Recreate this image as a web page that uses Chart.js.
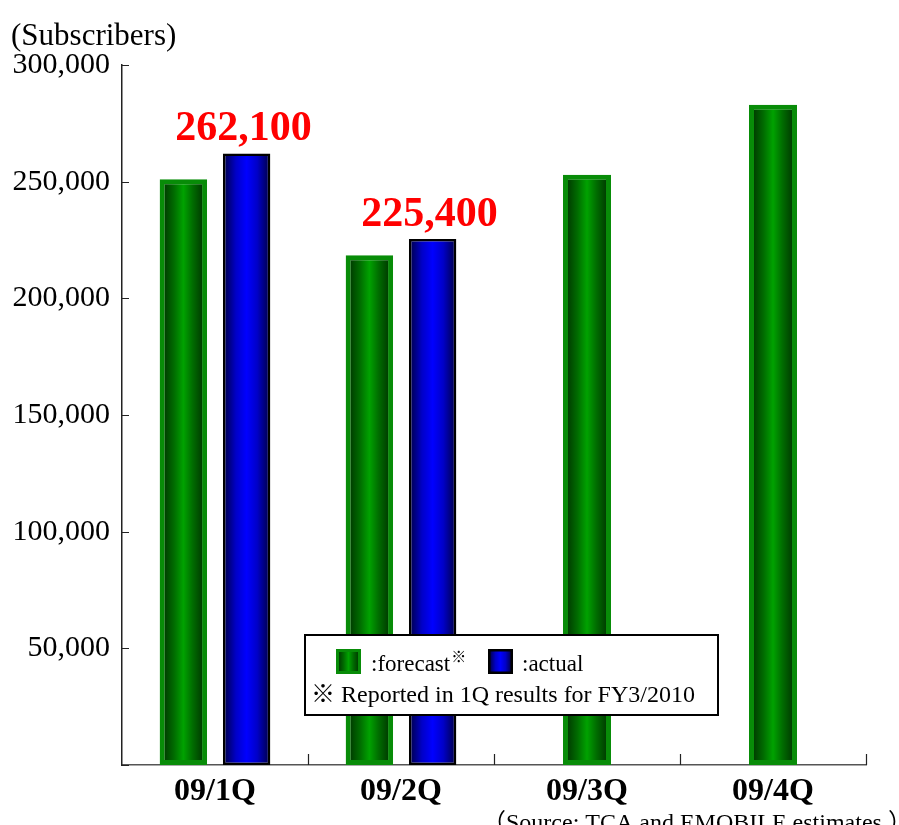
<!DOCTYPE html>
<html>
<head>
<meta charset="utf-8">
<title>Subscribers</title>
<script src="https://cdn.jsdelivr.net/npm/chart.js"></script>
<style>
  html, body { margin: 0; padding: 0; background: #fff; }
  #wrap { width: 899px; height: 825px; }
</style>
</head>
<body>
<div id="wrap"><canvas id="subsChart" width="899" height="825"></canvas></div>
<script>
// quarters and subscriber counts
const quarters = ['09/1Q', '09/2Q', '09/3Q', '09/4Q'];
const forecast = [251000, 218500, 253000, 283000];
const actual = [262100, 225400, null, null];
const yTicks = [0, 50000, 100000, 150000, 200000, 250000, 300000];

const SERIF = "'Liberation Serif', 'Noto Sans CJK JP', serif";

// gradient stops for the bar faces (edge -> centre -> edge)
const greenShade = ['#003f00', '#006c00', '#00a200', '#006c00', '#003f00'];
const blueShade = ['#00005a', '#0000c8', '#0000ff', '#0000c8', '#00005a'];

function fmt(v) {
    return v.toLocaleString('en-US');
}

function shadeFill(ctx, x0, x1, stops) {
    const g = ctx.createLinearGradient(x0, 0, x1, 0);
    stops.forEach((c, i) => g.addColorStop(i / (stops.length - 1), c));
    return g;
}

// horizontal gradient on every bar
const barShade = {
    id: 'barShade',
    beforeDatasetsDraw(chart) {
        const ctx = chart.ctx;
        chart.data.datasets.forEach((ds, di) => {
            const meta = chart.getDatasetMeta(di);
            meta.data.forEach(bar => {
                if (bar.skip) return;
                const { x, width } = bar.getProps(['x', 'width'], true);
                const b = ds.borderWidth;
                const fill = shadeFill(ctx, x - width / 2 + b, x + width / 2 - b, ds.shade);
                bar.options = Object.assign({}, bar.options, { backgroundColor: fill });
            });
        });
    }
};

// red value labels above the actual bars
const valueLabels = {
    id: 'valueLabels',
    afterDatasetsDraw(chart) {
        const ctx = chart.ctx;
        const meta = chart.getDatasetMeta(1);
        ctx.save();
        ctx.font = 'bold 42px ' + SERIF;
        ctx.fillStyle = '#ff0000';
        ctx.textAlign = 'center';
        ctx.textBaseline = 'alphabetic';
        meta.data.forEach((bar, i) => {
            const v = chart.data.datasets[1].data[i];
            if (v == null) return;
            ctx.fillText(fmt(v), bar.x - 3, bar.y - 13);
        });
        ctx.restore();
    }
};

// inward tick marks on both axes
const innerTicks = {
    id: 'innerTicks',
    afterDatasetsDraw(chart) {
        const ctx = chart.ctx;
        const { y } = chart.scales;
        const area = chart.chartArea;
        ctx.save();
        ctx.strokeStyle = '#222';
        ctx.lineWidth = 1.2;
        ctx.beginPath();
        yTicks.forEach(v => {
            const py = Math.round(y.getPixelForValue(v)) + 0.5;
            ctx.moveTo(area.left, py);
            ctx.lineTo(area.left + 7, py);
        });
        const step = (area.right - area.left) / quarters.length;
        for (let i = 1; i <= quarters.length; i++) {
            const px = Math.round(area.left + step * i) + 0.5;
            ctx.moveTo(px, area.bottom);
            ctx.lineTo(px, area.bottom - 11);
        }
        ctx.stroke();
        ctx.restore();
    }
};

function swatch(ctx, x, y, ds) {
    const b = ds.legendBorder;
    ctx.fillStyle = shadeFill(ctx, x + b, x + 25 - b, ds.shade);
    ctx.fillRect(x, y, 25, 25);
    ctx.strokeStyle = ds.borderColor;
    ctx.lineWidth = b;
    ctx.strokeRect(x + b / 2, y + b / 2, 25 - b, 25 - b);
}

// boxed legend, axis title and source note
const annotations = {
    id: 'annotations',
    afterDraw(chart) {
        const ctx = chart.ctx;
        const [fc, ac] = chart.data.datasets;
        ctx.save();

        // legend box
        ctx.fillStyle = '#fff';
        ctx.fillRect(305, 635, 413, 80);
        ctx.strokeStyle = '#000';
        ctx.lineWidth = 2;
        ctx.strokeRect(305, 635, 413, 80);

        swatch(ctx, 336, 649, fc);
        swatch(ctx, 488, 649, ac);

        ctx.fillStyle = '#000';
        ctx.textBaseline = 'alphabetic';
        ctx.textAlign = 'left';
        ctx.font = '23px ' + SERIF;
        ctx.fillText(':' + fc.label, 371, 671);
        const w = ctx.measureText(':' + fc.label).width;
        ctx.fillText(':' + ac.label, 522, 671);
        ctx.font = '15px ' + SERIF;
        ctx.fillText('※', 371 + w + 1, 662);

        ctx.font = '24px ' + SERIF;
        ctx.fillText('※ Reported in 1Q results for FY3/2010', 311, 702);

        // axis unit
        ctx.font = '31px ' + SERIF;
        ctx.fillText('(Subscribers)', 11, 45);

        // source
        ctx.font = '24px ' + SERIF;
        ctx.fillText('（Source: TCA and EMOBILE estimates.）', 482, 830);

        ctx.restore();
    }
};

const ctx = document.getElementById('subsChart').getContext('2d');
const subsChart = new Chart(ctx, {
    type: 'bar',
    data: {
        labels: quarters,
        datasets: [{
            label: 'forecast',
            data: forecast,
            shade: greenShade,
            backgroundColor: '#009a00',
            borderColor: '#088c08',
            borderWidth: 5,
            legendBorder: 3,
            borderSkipped: false
        }, {
            label: 'actual',
            data: actual,
            shade: blueShade,
            backgroundColor: '#0000ff',
            borderColor: '#000000',
            borderWidth: 2.5,
            legendBorder: 2.5,
            borderSkipped: false
        }]
    },
    options: {
        responsive: false,
        animation: false,
        events: [],
        skipNull: true,
        categoryPercentage: 0.68,
        barPercentage: 0.75,
        maxBarThickness: 48,
        layout: { padding: { top: 65, right: 33, left: 0, bottom: 0 } },
        plugins: {
            legend: { display: false },
            tooltip: { enabled: false }
        },
        scales: {
            x: {
                grid: { display: false, drawTicks: false },
                border: { display: true, color: '#555', width: 1.5 },
                ticks: {
                    color: '#000',
                    font: { family: SERIF, size: 32, weight: 'bold' },
                    padding: 8
                },
                afterFit(scale) { scale.height = 60; }
            },
            y: {
                min: 0,
                max: 300000,
                grid: { display: false, drawTicks: false },
                border: { display: true, color: '#222', width: 1.5 },
                ticks: {
                    stepSize: 50000,
                    color: '#000',
                    font: { family: SERIF, size: 30 },
                    padding: 12,
                    callback: v => (v === 0 ? '' : fmt(v))
                },
                afterFit(scale) { scale.width = 122; }
            }
        }
    },
    plugins: [barShade, valueLabels, innerTicks, annotations]
});
</script>
</body>
</html>
